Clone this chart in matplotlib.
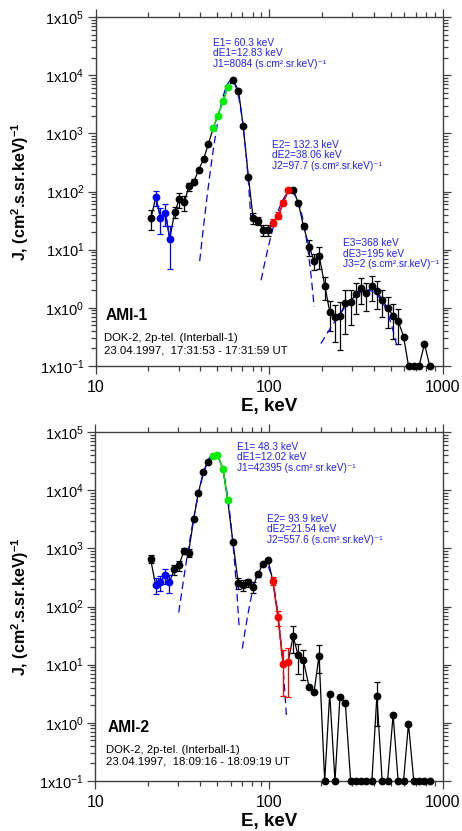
import numpy as np
import matplotlib
matplotlib.use('Agg')
import matplotlib.pyplot as plt
from matplotlib.ticker import LogLocator, NullFormatter, FuncFormatter, FixedLocator

plt.rcParams['font.family'] = ['Liberation Sans', 'DejaVu Sans']
plt.rcParams['mathtext.fontset'] = 'custom'
plt.rcParams['mathtext.rm'] = 'Liberation Sans'
plt.rcParams['mathtext.it'] = 'Liberation Sans:italic'
plt.rcParams['mathtext.bf'] = 'Liberation Sans:bold'
plt.rcParams['mathtext.default'] = 'regular'

# ---------------- data ----------------
energy = [20.8, 22.2, 23.6, 25.2, 26.7, 28.5, 30.3, 32.4, 34.4, 36.8,
          39.1, 41.8, 44.5, 47.5, 50.3, 54.3, 57.7, 61.9, 66.4, 70.7,
          75.8, 80.6, 86.1, 92.0, 98.7, 105.0, 112.6, 120.3, 128.5, 137.3,
          146.7, 157.3, 169.6, 181.2, 193.6, 208.7, 223.0, 239.2, 255.5, 274.1,
          294.3, 314.4, 338.5, 361.6, 389.9, 416.5, 446.7, 479.7, 516.6, 551.9,
          592.7, 633.2, 679.0, 728.3, 782.0, 838.9]

top_flux = [35.2, 79.8, 35.2, 43.4, 15.3, 44.1, 73.8, 65.5, 123, 148,
            235, 359, 650, 1224, 1991, 3646, 6343, 8170, 5417, 1324,
            176, 35.6, 31.6, 21.9, 21.9, 29.2, 38.5, 64.4, 105, 105,
            64.4, 25.3, 11.2, 6.42, 7.82, 2.39, 0.843, 0.692, 0.738, 1.2,
            1.28, 1.72, 2.21, 1.79, 2.39, 1.94, 1.37, 1.0, 0.73, 0.598,
            0.321, 0.1, 0.1, 0.1, 0.24, 0.1]
top_err = [0.38, 0.3, 0.48, 0.41, 0.7, 0.22, 0.3, 0.3, 0.16, 0.1,
           0.05, 0.03, 0.03, 0.03, 0.03, 0.03, 0.03, 0.03, 0.03, 0.03,
           0.03, 0.22, 0.15, 0.22, 0.22, 0.14, 0.14, 0.1, 0.05, 0.05,
           0.05, 0.1, 0.3, 0.3, 0.4, 0.43, 0.53, 0.62, 0.74, 0.7,
           0.6, 0.55, 0.47, 0.5, 0.45, 0.5, 0.5, 0.55, 0.6, 0.6,
           0, 0, 0, 0, 0, 0]

bot_flux = [658, 238, 262, 345, 262, 438, 513, 914, 844, 3162,
            8850, 20300, 30900, 38240, 40740, 23140, 6790, 1288, 255, 235,
            259, 217, 356, 540, 620, 275, 65, 10.3, 11.0, 30.9,
            14.6, 11.8, 4.2, 3.37, 14.3, 0.1, 3.18, 0.1, 2.80, 2.23,
            0.1, 0.1, 0.1, 0.1, 0.1, 2.91, 0.1, 0.1, 1.37, 0.1,
            0.1, 0.97, 0.1, 0.1, 0.1, 0.1]
bot_err = [0.15, 0.3, 0.3, 0.3, 0.35, 0.2, 0.2, 0.1, 0.15, 0.03,
           0.03, 0.03, 0.03, 0.03, 0.03, 0.03, 0.03, 0.03, 0.22, 0.2,
           0.15, 0.2, 0.1, 0.05, 0.03, 0.15, 0.28, 0.72, 0.75, 0.48,
           0.53, 0.53, 0, 0, 0.5, 0, 0, 0, 0, 0,
           0, 0, 0, 0, 0, 0.7, 0, 0, 0, 0,
           0, 0, 0, 0, 0, 0]

blue_idx = [1, 2, 3, 4]
green_idx = [13, 14, 15, 16]
red_idx = [25, 26, 27, 28]

x_ticks = [10, 100, 1000]
y_ticks = [0.1, 1, 10, 100, 1000, 10000, 100000]

# Gaussian fit parameters (E, dE FWHM, J) and drawn ranges
top_fit_E = [60.3, 132.3, 368]
top_fit_dE = [12.83, 38.06, 195]
top_fit_J = [8084, 97.7, 2]
top_fit_lo = [39.7, 89.6, 198]
top_fit_hi = [78.4, 181, 545]

bot_fit_E = [48.3, 93.9]
bot_fit_dE = [12.02, 21.54]
bot_fit_J = [42395, 557.6]
bot_fit_lo = [30.2, 70.1]
bot_fit_hi = [67.3, 126]

top_labels = [["E1= 60.3 keV", "dE1=12.83 keV", "J1=8084 (s.cm\u00b2.sr.keV)\u207b\u00b9"],
              ["E2= 132.3 keV", "dE2=38.06 keV", "J2=97.7 (s.cm\u00b2.sr.keV)\u207b\u00b9"],
              ["E3=368 keV", "dE3=195 keV", "J3=2 (s.cm\u00b2.sr.keV)\u207b\u00b9"]]
bot_labels = [["E1= 48.3 keV", "dE1=12.02 keV", "J1=42395 (s.cm\u00b2.sr.keV)\u207b\u00b9"],
              ["E2= 93.9 keV", "dE2=21.54 keV", "J2=557.6 (s.cm\u00b2.sr.keV)\u207b\u00b9"]]

# ---------------- figure ----------------
W, H = 462, 831
fig = plt.figure(figsize=(W / 100, H / 100), dpi=100)

def frac_box(x0, y0, x1, y1):
    return [x0 / W, 1 - y1 / H, (x1 - x0) / W, (y1 - y0) / H]

ax_top = fig.add_axes(frac_box(95.7, 17, 443, 366))
ax_bot = fig.add_axes(frac_box(95.3, 432, 443, 781))

BLUE = '#0000ff'
GREEN = '#00ee00'
RED = '#ff0000'
AXC = '#404040'
TXTBLUE = '#2020ff'

def ptxt(x, y, s, **kw):
    fig.text(x / W, 1 - y / H, s, **kw)

def minor_ticks(majors):
    out = []
    for m in majors[:-1]:
        out.extend([m * k for k in range(2, 10)])
    return out

def draw_panel(ax, flux, err, fE, fdE, fJ, flo, fhi):
    E = np.array(energy)
    J = np.array(flux, dtype=float)
    sig = np.array(err) * J
    ax.set_xscale('log')
    ax.set_yscale('log')
    ax.set_xlim(x_ticks[0], x_ticks[-1])
    ax.set_ylim(y_ticks[0], y_ticks[-1])
    colored = set(blue_idx + green_idx + red_idx)
    black = [i for i in range(len(E)) if i not in colored]
    eb = [i for i in black if sig[i] > 0]
    ax.errorbar(E[eb], J[eb], yerr=sig[eb], fmt='none', ecolor='black',
                elinewidth=0.9, capsize=2.0, capthick=0.9, zorder=2)
    ax.plot(E, J, '-', color='black', lw=0.9, zorder=3, clip_on=False)
    for e0, de, j0, lo, hi in zip(fE, fdE, fJ, flo, fhi):
        e = np.geomspace(lo, hi, 300)
        ax.plot(e, j0 * np.exp(-4 * np.log(2) * ((e - e0) / de) ** 2),
                color=BLUE, lw=0.9, dashes=(6, 3.5), zorder=4)
    for idx, col in ((blue_idx, BLUE), (green_idx, GREEN), (red_idx, RED)):
        ax.errorbar(E[idx], J[idx], yerr=sig[idx], fmt='-', color=col,
                    elinewidth=0.9, capsize=2.0, capthick=0.9, lw=1.0, zorder=5)
        ax.plot(E[idx], J[idx], 'o', color=col, ms=4.6, mec=col, zorder=7, clip_on=False)
    ax.plot(E[black], J[black], 'o', color='black', ms=4.6, zorder=6, clip_on=False)

    ax.xaxis.set_major_locator(FixedLocator(x_ticks))
    ax.xaxis.set_minor_locator(FixedLocator(minor_ticks(x_ticks)))
    ax.xaxis.set_major_formatter(FuncFormatter(lambda v, p: f"{int(round(v))}"))
    ax.xaxis.set_minor_formatter(NullFormatter())
    ax.yaxis.set_major_locator(FixedLocator(y_ticks))
    ax.yaxis.set_minor_locator(FixedLocator(minor_ticks(y_ticks)))
    ax.yaxis.set_major_formatter(FuncFormatter(
        lambda v, p: "1x10$^{%d}$" % int(round(np.log10(v)))))
    ax.yaxis.set_minor_formatter(NullFormatter())
    ax.tick_params(which='both', direction='out', top=True, right=True,
                   color=AXC, width=0.9)
    ax.tick_params(which='major', length=6)
    ax.tick_params(axis='x', which='major', pad=4, labelsize=11.5)
    ax.tick_params(axis='y', which='major', pad=2, labelsize=10.5)
    ax.tick_params(which='minor', length=3.5)
    for s in ax.spines.values():
        s.set_color(AXC)
        s.set_linewidth(1.0)
    ax.set_xlabel('E, keV', fontsize=13.5, fontweight='bold', labelpad=2)
    ax.set_ylabel('J, (cm$^2$.s.sr.keV)$^{-1}$', fontsize=11.5, fontweight='bold', labelpad=6)

draw_panel(ax_top, top_flux, top_err, top_fit_E, top_fit_dE, top_fit_J, top_fit_lo, top_fit_hi)
draw_panel(ax_bot, bot_flux, bot_err, bot_fit_E, bot_fit_dE, bot_fit_J, bot_fit_lo, bot_fit_hi)

# fit annotations
ann_fs = 7.3
top_pos = [(213.3, 45.7), (272.3, 147.5), (343.3, 246)]
for (x, y), lines in zip(top_pos, top_labels):
    for k, s in enumerate(lines):
        ptxt(x, y + k * 10.7, s, color=TXTBLUE, fontsize=ann_fs, va='baseline')
bot_pos = [(236.7, 449.5), (266.7, 521.5)]
for (x, y), lines in zip(bot_pos, bot_labels):
    for k, s in enumerate(lines):
        ptxt(x, y + k * 10.8, s, color=TXTBLUE, fontsize=ann_fs, va='baseline')

# panel titles
ptxt(106, 319.5, 'AMI-1', fontsize=11.2, fontweight='bold', va='baseline')
ptxt(104, 341.5, 'DOK-2, 2p-tel. (Interball-1)', fontsize=8.2, va='baseline')
ptxt(104, 353.3, '23.04.1997,  17:31:53 - 17:31:59 UT', fontsize=8.2, va='baseline')
ptxt(108, 731.7, 'AMI-2', fontsize=11.2, fontweight='bold', va='baseline')
ptxt(106, 753.3, 'DOK-2, 2p-tel. (Interball-1)', fontsize=8.2, va='baseline')
ptxt(106, 764.5, '23.04.1997,  18:09:16 - 18:09:19 UT', fontsize=8.2, va='baseline')

fig.savefig('out.png', dpi=100)
